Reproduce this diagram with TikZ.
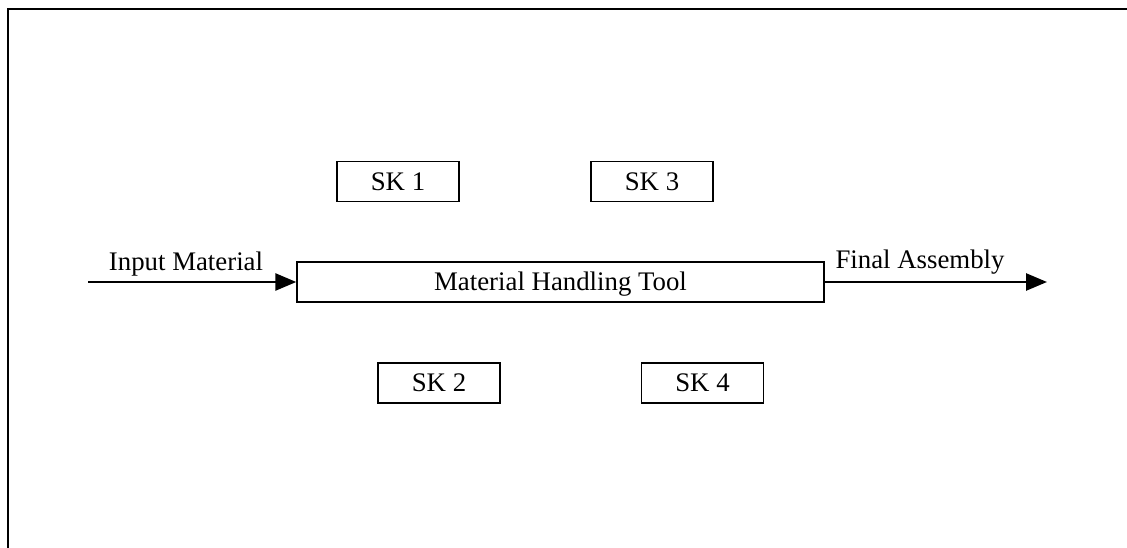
\documentclass[tikz,border=0pt]{standalone}
\usepackage{fontspec}
\setmainfont{Liberation Serif}
\usetikzlibrary{arrows.meta}
\begin{document}
\begin{tikzpicture}[x=1pt,y=-1pt,
  box/.style={draw=black, line width=1.4pt, inner sep=0pt, minimum height=40pt,
    text height=17.5pt, text depth=0pt, font=\fontsize{26.8}{30}\selectfont},
  skbox/.style={box, minimum width=122pt},
  lbl/.style={inner sep=0pt, anchor=base, font=\fontsize{26.8}{30}\selectfont},
  flow/.style={line width=2.6pt, -{Triangle[length=21pt,width=17pt]}}]
\useasboundingbox (0,0) rectangle (1127,548);
\draw[line width=2pt] (8,548) -- (8,9.5) -- (1127,9.5);
\node[box, minimum width=527pt] (tool) at (560.5,282) {Material Handling Tool};
\node[skbox] (sk1) at (398,181.5) {SK 1};
\node[skbox] (sk3) at (652,181.5) {SK 3};
\node[skbox] (sk2) at (439,383) {SK 2};
\node[skbox] (sk4) at (702.5,383) {SK 4};
\coordinate (in) at (88,282);
\coordinate (out) at (1047,282);
\draw[flow] (in) -- (tool.west);
\draw[flow] (tool.east) -- (out);
\node[lbl] (inlbl) at (186,270) {Input Material};
\node[lbl] (outlbl) at (920,268.5) {Final Assembly};
\end{tikzpicture}
\end{document}
